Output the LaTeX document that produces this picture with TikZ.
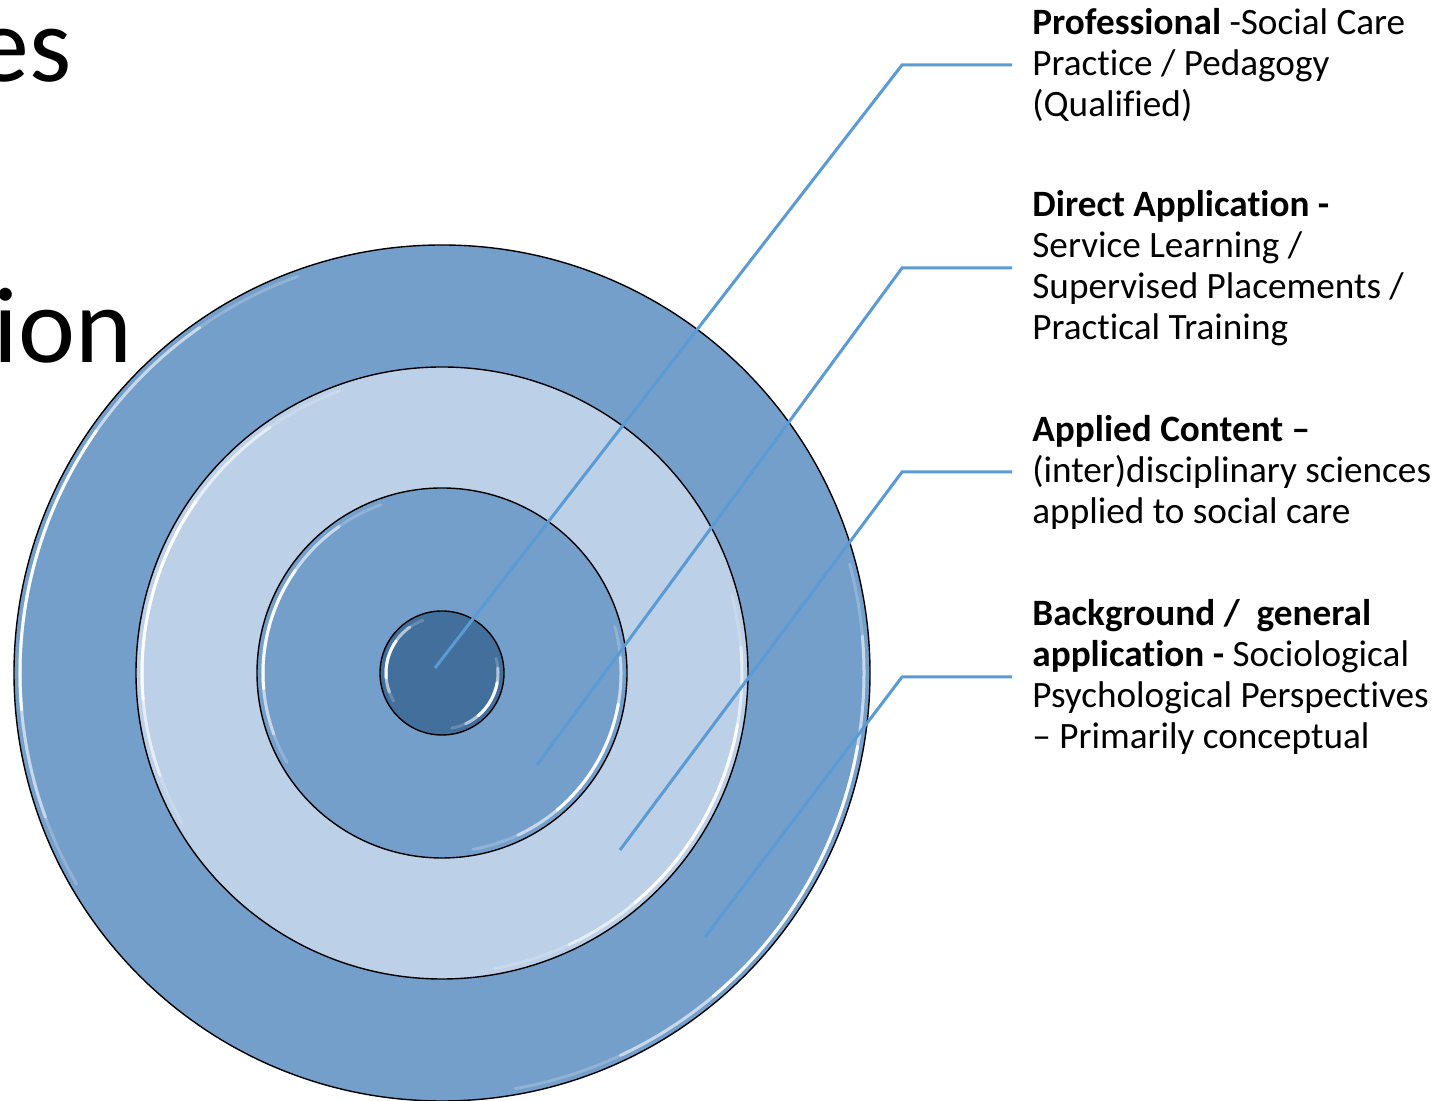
\documentclass[tikz,border=0pt]{standalone}
\usepackage{fontspec}
\setmainfont{Carlito}[Ligatures=CommonOff]
\usetikzlibrary{positioning,calc}
\definecolor{ringDark}{RGB}{116,159,203}
\definecolor{ringLight}{RGB}{188,208,232}
\definecolor{coreBlue}{RGB}{66,111,156}
\definecolor{leaderBlue}{RGB}{91,155,213}
\tikzset{%
  % Specifications for style of nodes:
    baseRing/.style = {circle,draw=black,line width=0.7pt,inner sep=0,outer sep=0},
    ringOuter/.style = {baseRing,fill=ringDark,minimum size=428pt},
    ringMiddle/.style = {baseRing,fill=ringLight,minimum size=306pt},
    ringInner/.style = {baseRing,fill=ringDark,minimum size=185pt},
    ringCore/.style = {baseRing,fill=coreBlue,minimum size=62pt},
    gloss/.style = {white,line width=1.5pt,line cap=round},
    leader/.style = {leaderBlue,line width=1.5pt},
    labelText/.style = {anchor=west,align=left,inner xsep=10pt,inner ysep=0,font=\fontsize{18.6}{20.5}\selectfont},
    titleText/.style = {inner sep=0,font=\fontsize{54}{60}\selectfont},
}
\begin{document}
\begin{tikzpicture}[x=0.5pt,y=0.5pt]
	\useasboundingbox (0,0) rectangle (1440,1101);
	\clip (0,0) rectangle (1440,1101);

	% title fragments cut by the left edge
	\node [titleText,anchor=base east] (title-1) at (72,1019) {es};
	\node [titleText,anchor=base west] (title-2) at (-7,738) {ion};

	\coordinate (centre) at (442,428);
	\node [ringOuter] (ring-1) at (centre) {};
	\node [ringMiddle] (ring-2) at (centre) {};
	\node [ringInner] (ring-3) at (centre) {};
	\node [ringCore] (ring-4) at (centre) {};

	% glossy edges
	\foreach \r in {211,150,89.5,28}{
		\draw[gloss,opacity=0.2] (centre) ++(110:\r pt) arc[start angle=110,end angle=210,radius=\r pt];
		\draw[gloss,opacity=0.5] (centre) ++(125:\r pt) arc[start angle=125,end angle=200,radius=\r pt];
		\draw[gloss,opacity=0.9] (centre) ++(145:\r pt) arc[start angle=145,end angle=185,radius=\r pt];
		\draw[gloss,opacity=0.2] (centre) ++(-80:\r pt) arc[start angle=-80,end angle=15,radius=\r pt];
		\draw[gloss,opacity=0.5] (centre) ++(-65:\r pt) arc[start angle=-65,end angle=5,radius=\r pt];
		\draw[gloss,opacity=0.9] (centre) ++(-50:\r pt) arc[start angle=-50,end angle=-10,radius=\r pt];
	}

	\node [labelText] (label-1) at (1012,1036) {\textbf{Professional} -Social Care\\Practice / Pedagogy\\(Qualified)};
	\node [labelText] (label-2) at (1012,833) {\textbf{Direct Application -}\\Service Learning /\\Supervised Placements /\\Practical Training};
	\node [labelText] (label-3) at (1012,629) {\textbf{Applied Content –}\\(inter)disciplinary sciences\\applied to social care};
	\node [labelText] (label-4) at (1012,424) {\textbf{Background /\ \ general}\\\textbf{application -} Sociological\\Psychological Perspectives\\– Primarily conceptual};

	\coordinate (dot-1) at (435,433);
	\coordinate (dot-2) at (537,336);
	\coordinate (dot-3) at (620,251);
	\coordinate (dot-4) at (705,164);

	\foreach \i in {1,...,4}
		\draw[leader] (dot-\i) -- ([xshift=-55pt]label-\i.west) -- (label-\i.west);

\end{tikzpicture}
\end{document}
